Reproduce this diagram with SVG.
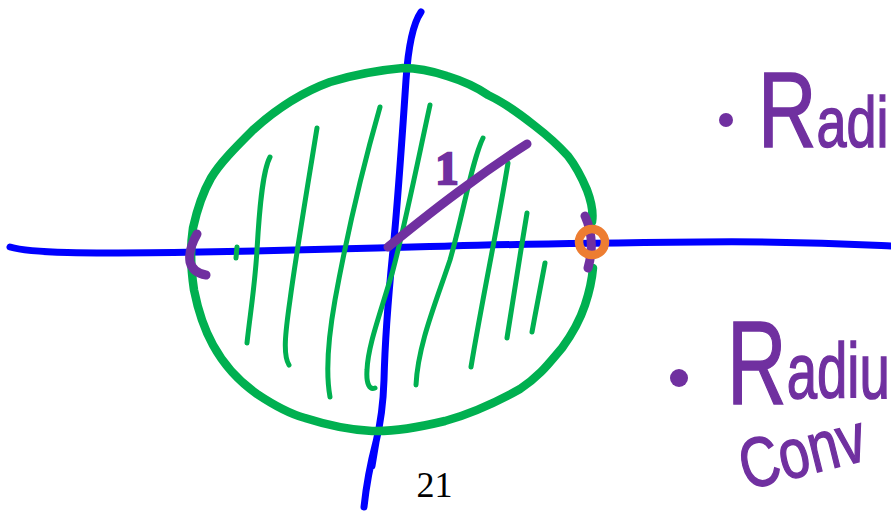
<svg xmlns="http://www.w3.org/2000/svg" width="891" height="511" viewBox="0 0 891 511">
<style>
.ax{fill:none;stroke:#0000ff;stroke-width:7;stroke-linecap:round;stroke-linejoin:round}
.gr{fill:none;stroke:#00b050;stroke-width:8.5;stroke-linecap:round;stroke-linejoin:round}
.ht{fill:none;stroke:#00b050;stroke-width:5;stroke-linecap:round;stroke-linejoin:round}
.pu{fill:none;stroke:#7030a0;stroke-width:9;stroke-linecap:round;stroke-linejoin:round}
.hw{fill:#7030a0;font-family:"Liberation Sans",Arial,sans-serif;stroke:#7030a0;stroke-width:1.5}
</style>
<rect width="891" height="511" fill="#ffffff"/>
<g id="axes">
<path class="ax" d="M10,247 C30,253 80,254 200,252 S380,248 450,246 S600,243 700,242 S850,244 891,246"/>
<path class="ax" d="M421,12 C412,25 408,50 406,80 C402,140 398,200 393,250 C388,300 385,340 384,380 C383,410 379,430 376,442 L372,466 M376,442 C370,465 366,488 364,507"/>
</g>
<g id="disk">
<path class="gr" d="M403,68 C380,70 353,75 330,82 C300,93 275,110 253,130 C235,148 220,163 211,178 C203,192 197,210 193,228 C190,247 191,270 194,290 C198,310 203,327 213,345 C225,367 240,382 257,394 C275,406 290,414 305,418 C330,426 350,430 372,431 C395,432 420,427 445,421 C470,414 495,403 520,389 C540,376 550,362 562,348 C573,333 580,320 585,305 C590,290 592,280 593,268 M592,222 C594,210 590,198 587,190 C582,178 575,165 568,156 C558,145 548,136 535,126 C520,114 505,103 488,95 C475,86 460,80 447,76 C432,71 418,68 403,68"/>
<path class="ht" d="M270,157 C262,172 259,215 257,250 C255,285 250,315 247,343"/>
<path class="ht" d="M237,247 L236,258"/>
<path class="ht" d="M317,128 C307,190 296,255 290,300 C285,335 283,355 289,365"/>
<path class="ht" d="M380,107 C362,170 345,245 335,300 C327,345 326,375 330,397"/>
<path class="ht" d="M430,105 C418,160 405,225 393,270 C380,315 368,345 367,370 C366,385 370,390 375,388"/>
<path class="ht" d="M483,138 C472,160 463,215 450,260 C435,305 418,345 416,385"/>
<path class="ht" d="M508,163 C498,225 483,295 471,367"/>
<path class="ht" d="M527,213 C520,255 513,300 507,338"/>
<path class="ht" d="M545,263 C540,290 536,310 532,332"/>
</g>
<g id="radius">
<path class="pu" stroke-width="10" d="M388,247 C415,225 440,205 465,187 C485,172 505,158 527,144"/>
<text x="447" y="184" text-anchor="middle" font-family="Liberation Serif,serif" font-weight="bold" font-size="46" fill="#7030a0" stroke="#7030a0" stroke-width="2.5">1</text>
</g>
<g id="interval">
<path class="pu" d="M197,234 Q188,250 190,262 Q193,273 206,275"/>
<path class="pu" stroke-width="4" d="M585,216 Q596,240 588,268"/>
<circle cx="592" cy="242" r="13" fill="none" stroke="#ed7d31" stroke-width="8.5"/>
</g>
<g id="notes">
<circle cx="726" cy="120" r="7" fill="#7030a0"/>
<text class="hw" transform="translate(758,147) scale(0.75,1)"><tspan font-size="108">R</tspan><tspan font-size="72">adi</tspan></text>
<circle cx="679" cy="378" r="9" fill="#7030a0"/>
<text class="hw" transform="translate(727,404) scale(0.70,1)"><tspan font-size="118">R</tspan><tspan font-size="78" dy="-6">adiu</tspan></text>
<text class="hw" font-size="70" transform="translate(746,490) rotate(-14) scale(0.78,1)">Conv</text>
</g>
<text x="434.5" y="497" text-anchor="middle" font-family="Liberation Serif,serif" font-size="36" fill="#000000">21</text>
</svg>
